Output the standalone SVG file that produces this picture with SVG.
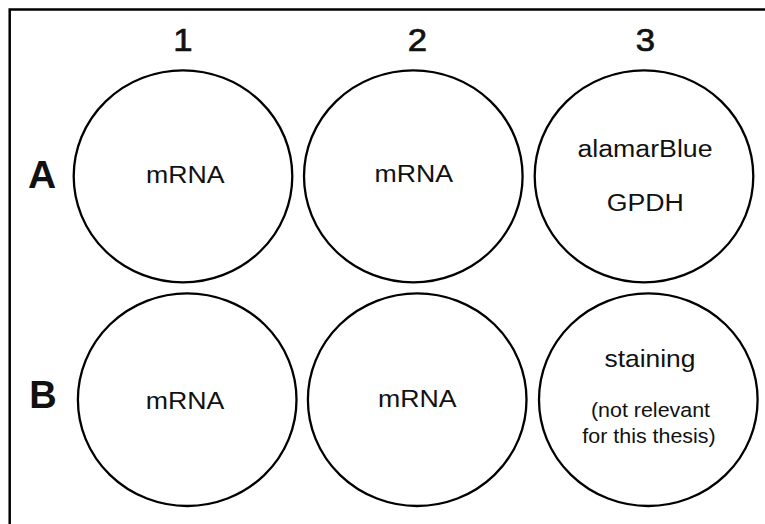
<svg xmlns="http://www.w3.org/2000/svg" width="765" height="524" viewBox="0 0 765 524">
  <style>
    .frame { fill: none; stroke: #000; stroke-width: 2.5; }
    .well { fill: #fff; stroke: #000; stroke-width: 2.3; }
    .lbl { font-family: "Liberation Sans", Arial, sans-serif; fill: #111; text-anchor: middle; }
    .col { font-size: 31px; stroke: #111; stroke-width: 0.7; }
    .row { font-size: 39px; font-weight: bold; }
    .main { font-size: 24.5px; }
    .note { font-size: 19.5px; }
  </style>
  <rect width="765" height="524" fill="#fff"/>
  <!-- plate outline, open to the right and bottom -->
  <path class="frame" d="M9.7,530 V9.5 H770"/>

  <!-- column and row headers -->
  <g id="headers">
    <text class="lbl col" transform="translate(183,51) scale(1.12,1)">1</text>
    <text class="lbl col" transform="translate(417.3,51) scale(1.12,1)">2</text>
    <text class="lbl col" transform="translate(645.5,51) scale(1.12,1)">3</text>
    <text class="lbl row" x="42.2" y="188.3">A</text>
    <text class="lbl row" x="43" y="407.7" style="font-size:38px">B</text>
  </g>

  <!-- wells -->
  <g id="wellA1">
    <ellipse class="well" cx="183" cy="176.3" rx="109.3" ry="106"/>
    <text class="lbl main" transform="translate(185.3,183.3) scale(1.09,1)">mRNA</text>
  </g>
  <g id="wellA2">
    <ellipse class="well" cx="413.3" cy="176.3" rx="109.3" ry="106"/>
    <text class="lbl main" transform="translate(413.7,181.7) scale(1.09,1)">mRNA</text>
  </g>
  <g id="wellA3">
    <ellipse class="well" cx="644" cy="176.3" rx="109.3" ry="106"/>
    <text class="lbl main" transform="translate(645,156.7) scale(1.09,1)">alamarBlue</text>
    <text class="lbl main" transform="translate(645.2,210.7) scale(1.09,1)">GPDH</text>
  </g>
  <g id="wellB1">
    <ellipse class="well" cx="187.2" cy="399.7" rx="109.3" ry="106.3"/>
    <text class="lbl main" transform="translate(185,409.3) scale(1.09,1)">mRNA</text>
  </g>
  <g id="wellB2">
    <ellipse class="well" cx="417.2" cy="399.7" rx="109.3" ry="106.3"/>
    <text class="lbl main" transform="translate(417.3,406.7) scale(1.09,1)">mRNA</text>
  </g>
  <g id="wellB3">
    <ellipse class="well" cx="648.3" cy="399.7" rx="109.3" ry="106.3"/>
    <text class="lbl main" transform="translate(650,366.7) scale(1.1,1)" style="font-size:24px">staining</text>
    <text class="lbl note" transform="translate(650.5,416.7) scale(1.1,1)">(not relevant</text>
    <text class="lbl note" transform="translate(649,442.7) scale(1.1,1)">for this thesis)</text>
  </g>
</svg>
